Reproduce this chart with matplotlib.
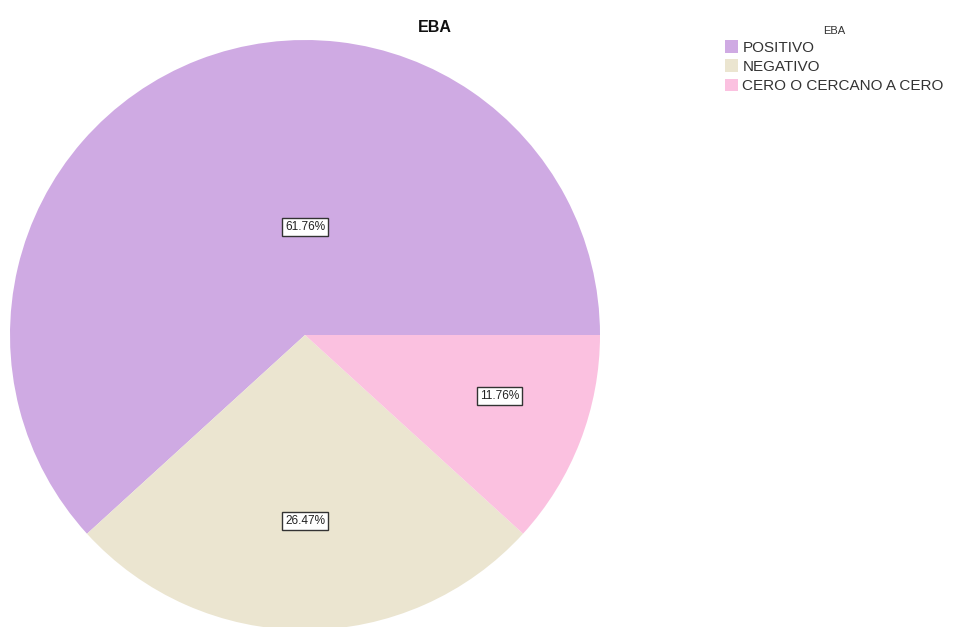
import matplotlib
matplotlib.use("Agg")
import matplotlib.pyplot as plt
from matplotlib.patches import Patch

categories = ["POSITIVO", "NEGATIVO", "CERO O CERCANO A CERO"]
percentages = [61.76, 26.47, 11.76]
slice_colors = ["#cfaae3", "#ebe5d0", "#fbc1e0"]

# label anchor positions in (x, y) within a unit pie
label_pos = [(0.0, 0.366), (0.0, -0.63), (0.66, -0.207)]

plt.rcParams["font.family"] = ["Liberation Sans", "DejaVu Sans"]

fig = plt.figure(figsize=(9.56, 6.27), dpi=100)
W, H = 956, 627
ax = fig.add_axes([10 / W, (H - 630) / H, 590 / W, 590 / H])

ax.pie(percentages, colors=slice_colors, startangle=0, counterclock=True,
       radius=1.0, wedgeprops={"linewidth": 0})
ax.set_xlim(-1, 1)
ax.set_ylim(-1, 1)
ax.set_aspect("equal")
ax.axis("off")

for (x, y), pct in zip(label_pos, percentages):
    ax.text(x, y, f"{pct:.2f}%", ha="center", va="center", fontsize=8.5,
            color="#222222",
            bbox=dict(boxstyle="square,pad=0.25", facecolor="white",
                      edgecolor="#333333", linewidth=1.0))

fig.text(435 / W, 1 - 27 / H, "EBA", ha="center", va="center",
         fontsize=11.5, fontweight="bold", color="#111111")

handles = [Patch(facecolor=c, edgecolor="none") for c in slice_colors]
leg = fig.legend(handles, categories, title="EBA", loc="upper left",
                 bbox_to_anchor=(714 / W, 1 - 15 / H), frameon=False,
                 fontsize=11, title_fontsize=8, handlelength=0.9,
                 handleheight=0.9, handletextpad=0.25, labelspacing=0.3,
                 borderpad=0.2)
leg.get_title().set_color("#333333")
for t in leg.get_texts():
    t.set_color("#333333")

fig.savefig("out.png", dpi=100)
